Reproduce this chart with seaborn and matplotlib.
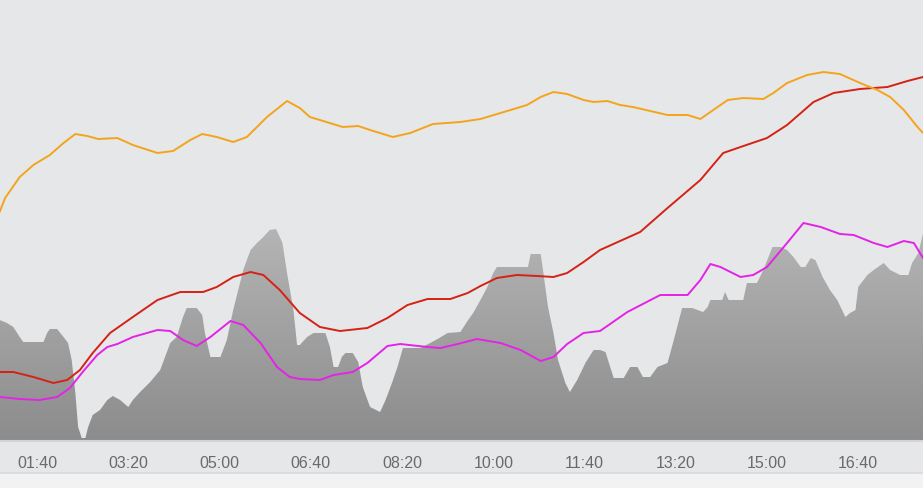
import numpy as np
import pandas as pd
import matplotlib
matplotlib.use("Agg")
import matplotlib.pyplot as plt
import seaborn as sns
from matplotlib.patches import Rectangle
from matplotlib.lines import Line2D
from matplotlib.colors import LinearSegmentedColormap

# ---- data (time in minutes, values in arbitrary units) ----
tick_minutes = [100, 200, 300, 400, 500, 600, 700, 800, 900, 1000]
tick_labels = ["01:40", "03:20", "05:00", "06:40", "08:20", "10:00", "11:40", "13:20", "15:00", "16:40"]

orange_t = [59, 65, 81, 96, 114, 129, 142, 155, 167, 188, 205, 232, 249, 268, 281, 297, 315, 330, 352, 374,
            388, 399, 410, 435, 452, 465, 490, 509, 534, 564, 586, 608, 637, 652, 666, 681, 699, 710, 725, 739,
            753, 791, 813, 827, 838, 857, 874, 896, 907, 922, 944, 962, 980, 1002, 1021, 1035, 1050, 1065, 1071]
orange_v = [229, 243, 264, 276, 286, 298, 307, 305, 302, 303, 296, 288, 290, 301, 307, 304, 299, 304, 324, 340,
            333, 324, 321, 314, 315, 311, 304, 308, 317, 319, 322, 328, 336, 344, 349, 347, 341, 339, 340, 336,
            334, 326, 326, 322, 329, 341, 343, 342, 348, 358, 366, 369, 367, 358, 351, 344, 331, 314, 308]

red_t = [59, 74, 96, 118, 133, 147, 161, 180, 205, 232, 257, 282, 297, 315, 334, 348, 366, 388, 410, 432,
         462, 484, 506, 528, 553, 572, 586, 604, 626, 648, 666, 681, 699, 717, 761, 791, 827, 852, 871, 900,
         922, 951, 973, 1002, 1032, 1054, 1071]
red_v = [69, 69, 64, 58, 61, 71, 88, 108, 124, 141, 149, 149, 154, 164, 169, 166, 151, 128, 114, 110,
         113, 123, 136, 142, 142, 148, 155, 163, 166, 165, 164, 168, 179, 191, 209, 233, 261, 288, 294, 303,
         316, 339, 348, 352, 354, 360, 364]

magenta_t = [59, 81, 103, 122, 136, 150, 166, 177, 188, 205, 232, 246, 260, 275, 290, 312, 326, 345, 363, 377,
             388, 410, 425, 446, 462, 484, 498, 528, 542, 561, 582, 608, 630, 652, 666, 681, 699, 717, 747, 783,
             813, 827, 838, 849, 871, 885, 900, 922, 940, 959, 980, 995, 1017, 1032, 1050, 1061, 1071]
magenta_v = [44, 42, 41, 44, 53, 69, 86, 94, 97, 104, 111, 110, 101, 95, 104, 120, 116, 98, 74, 64,
             62, 61, 66, 69, 78, 95, 97, 94, 93, 97, 102, 98, 91, 80, 84, 97, 108, 110, 129, 146,
             146, 161, 177, 174, 164, 166, 174, 198, 218, 214, 207, 206, 198, 194, 200, 198, 183]

area_t = [59, 67, 74, 81, 85, 107, 111, 114, 122, 129, 134, 138, 142, 145, 149, 153, 156, 161, 169, 177,
          183, 191, 200, 205, 213, 224, 235, 246, 253, 260, 264, 275, 281, 284, 290, 301, 308, 315, 326, 334,
          341, 348, 355, 362, 369, 374, 381, 385, 388, 396, 403, 416, 421, 425, 430, 434, 438, 446, 452, 457,
          465, 476, 482, 489, 495, 501, 520, 531, 539, 550, 564, 571, 578, 586, 593, 600, 604, 638, 641, 652,
          655, 660, 666, 671, 679, 684, 692, 701, 710, 717, 723, 732, 743, 750, 758, 764, 772, 780, 791, 797,
          807, 818, 830, 835, 838, 851, 854, 858, 874, 878, 889, 896, 906, 915, 922, 929, 937, 942, 948, 953,
          961, 969, 977, 986, 991, 997, 1000, 1010, 1017, 1028, 1035, 1046, 1055, 1059, 1066, 1071]
area_v = [121, 118, 114, 104, 99, 99, 108, 112, 112, 104, 98, 81, 48, 14, 3, 3, 14, 26, 31, 41,
          45, 41, 34, 41, 49, 59, 71, 98, 104, 124, 133, 133, 126, 108, 84, 84, 101, 131, 171, 191,
          198, 204, 211, 212, 198, 168, 131, 96, 96, 104, 108, 108, 94, 74, 74, 84, 88, 88, 79, 54,
          34, 29, 41, 58, 74, 93, 93, 98, 102, 108, 109, 119, 128, 141, 153, 168, 174, 174, 187, 187,
          168, 134, 108, 81, 58, 49, 61, 78, 91, 91, 89, 63, 63, 74, 74, 64, 64, 74, 78, 98,
          133, 133, 129, 134, 141, 141, 149, 141, 141, 158, 158, 171, 194, 194, 191, 184, 174, 174, 183, 181,
          164, 151, 141, 124, 128, 131, 154, 166, 171, 178, 171, 166, 166, 178, 188, 208]

# ---- styling ----
sns.set_theme(style="white")
plt.rcParams['font.family'] = ['Liberation Sans', 'DejaVu Sans']

BG = '#e6e7e9'
XMIN, XMAX = 59.4, 1071.0
W, H = 923, 488
AX_BOTTOM_PX = 441

fig = plt.figure(figsize=(W / 100, H / 100), dpi=100)
fig.patch.set_facecolor(BG)

# bottom light strip and separator lines
fig.add_artist(Rectangle((0, 0), 1, 15 / H, transform=fig.transFigure,
                         facecolor='#f2f2f3', edgecolor='none', zorder=0))
fig.add_artist(Line2D([0, 1], [15 / H, 15 / H], transform=fig.transFigure,
                      color='#d8d9db', lw=1.2, zorder=1))

ax = fig.add_axes([0, (H - AX_BOTTOM_PX) / H, 1, AX_BOTTOM_PX / H])
ax.set_facecolor(BG)

# gray area with vertical gradient
poly = ax.fill_between(area_t, 0, area_v, facecolor='none', edgecolor='none', zorder=1)
cmap = LinearSegmentedColormap.from_list('g', ['#8c8c8c', '#b6b5b6'])
grad = np.linspace(0, 1, 256).reshape(-1, 1)
im = ax.imshow(grad, extent=[XMIN, XMAX, 0, 215], origin='lower', aspect='auto',
               cmap=cmap, zorder=1, interpolation='bilinear')
im.set_clip_path(poly.get_paths()[0], transform=ax.transData)

df_red = pd.DataFrame({'t': red_t, 'v': red_v})
df_mag = pd.DataFrame({'t': magenta_t, 'v': magenta_v})
df_org = pd.DataFrame({'t': orange_t, 'v': orange_v})

line_kw = dict(lw=1.4, solid_joinstyle='round', solid_capstyle='round')
sns.lineplot(data=df_mag, x='t', y='v', color='#e323e6', ax=ax, zorder=3, **line_kw)
sns.lineplot(data=df_red, x='t', y='v', color='#d42215', ax=ax, zorder=3, **line_kw)
sns.lineplot(data=df_org, x='t', y='v', color='#f4a41c', ax=ax, zorder=4, **line_kw)

ax.set_xlim(XMIN, XMAX)
ax.set_ylim(0, AX_BOTTOM_PX)
ax.set_xticks(tick_minutes)
ax.set_xticklabels(tick_labels)
ax.set_yticks([])
ax.set_xlabel('')
ax.set_ylabel('')
ax.tick_params(axis='x', length=0, pad=11, labelsize=11.5, labelcolor='#6a6a6a')
for s in ax.spines.values():
    s.set_visible(False)
ax.axhline(0, color='#d2d3d5', lw=1.5, zorder=5, clip_on=False)

fig.savefig('out.png', dpi=100, facecolor=fig.get_facecolor())
